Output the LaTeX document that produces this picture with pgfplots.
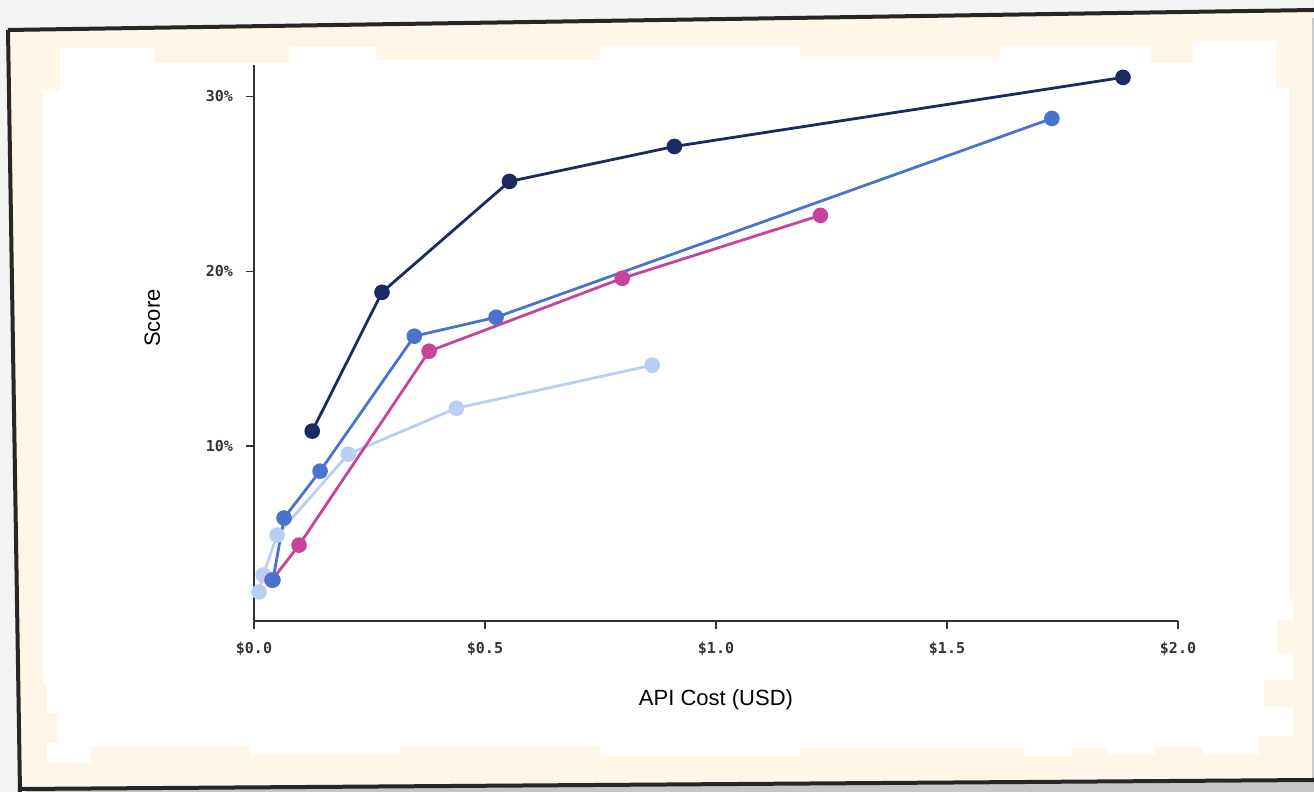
\documentclass[border=0pt]{standalone}
\usepackage{pgfplots}
\pgfplotsset{compat=1.18}
\usepackage{fontspec}
\setmainfont{Liberation Sans}
\newfontfamily\monofont{DejaVu Sans Mono}
\definecolor{navy}{HTML}{1B2A63}
\definecolor{midblue}{HTML}{4A74CC}
\definecolor{pinkc}{HTML}{C8439B}
\definecolor{lightb}{HTML}{B9CEF3}
\definecolor{cream}{HTML}{FEF6E8}
\definecolor{bgc}{HTML}{F3F3F3}
\begin{document}
\begin{tikzpicture}
\useasboundingbox (0,0) rectangle (657pt,396pt);
\begin{scope}[x=0.5pt,y=-0.5pt,shift={(0pt,396pt)}]
\fill[bgc] (0,0) rectangle (1314,792);
\fill[gray!45] (14,38) -- (1314,18) -- (1314,792) -- (26,792) -- cycle;
\fill[cream] (8,30) -- (1312,10) -- (1312,782) -- (20,790) -- cycle;
\draw[line width=2pt,black!85] (8,30) -- (1314,10);
\draw[line width=2pt,black!85] (8,30) -- (20,792);
\draw[line width=2pt,black!85] (20,789) -- (1314,780);
\fill[white] (60,90) -- (60,48) -- (154,48) -- (154,63) -- (290,63) -- (290,47) -- (376,47)
  -- (376,60) -- (600,60) -- (600,45) -- (800,45) -- (800,58) -- (1000,58) -- (1000,46)
  -- (1150,46) -- (1150,63) -- (1193,63) -- (1193,41) -- (1276,41) -- (1276,88) -- (1289,88)
  -- (1289,600) -- (1293,600) -- (1293,620) -- (1277,620) -- (1277,653) -- (1293,653)
  -- (1293,680) -- (1264,680) -- (1264,707) -- (1293,707) -- (1293,736) -- (1258,736)
  -- (1258,755) -- (1203,755) -- (1203,747) -- (1154,747) -- (1154,755) -- (1108,755)
  -- (1108,748) -- (1071,748) -- (1071,756) -- (1025,756) -- (1025,748) -- (800,748)
  -- (800,756) -- (600,756) -- (600,746) -- (400,746) -- (400,755) -- (250,755) -- (250,746)
  -- (91,746) -- (91,763) -- (47,763) -- (47,743) -- (58,743) -- (58,713) -- (47,713)
  -- (47,684) -- (43,684) -- (43,90) -- cycle;
\end{scope}
\begin{axis}[
  at={(127pt,85.5pt)}, anchor=south west,
  scale only axis, width=462pt, height=278pt,
  xmin=0, xmax=2, ymin=0, ymax=31.8,
  axis x line*=bottom, axis y line*=left,
  axis line style={-, black!80, line width=0.8pt},
  tick style={black!80, line width=0.8pt},
  tick align=outside, major tick length=4pt,
  xtick={0,0.5,1,1.5,2},
  xticklabels={\$0.0,\$0.5,\$1.0,\$1.5,\$2.0},
  ytick={10,20,30},
  yticklabels={10\%,20\%,30\%},
  ticklabel style={font=\monofont\bfseries\fontsize{7.5}{9}\selectfont, black!80},
  xticklabel style={yshift=-3pt},
  yticklabel style={xshift=-3pt},
  xlabel={API Cost (USD)},
  ylabel={Score},
  label style={font=\fontsize{11}{13}\selectfont},
  xlabel style={at={(axis description cs:0.5,-0.142)}, anchor=center},
  ylabel style={at={(axis description cs:-0.110,0.545)}, anchor=center, rotate=0},
  clip=false,
  every axis plot/.append style={line width=1.4pt, mark=*, mark size=3.2pt},
]
\addplot[lightb, mark options={fill=lightb, draw=lightb}] coordinates {
(0.011,1.66) (0.020,2.63) (0.050,4.91) (0.204,9.54) (0.438,12.17) (0.862,14.63)};
\addplot[pinkc, mark options={fill=pinkc, draw=pinkc}] coordinates {
(0.039,2.34) (0.0975,4.34) (0.379,15.43) (0.797,19.6) (1.226,23.2)};
\addplot[midblue, mark options={fill=midblue, draw=midblue}] coordinates {
(0.041,2.34) (0.065,5.89) (0.143,8.57) (0.347,16.29) (0.524,17.37) (1.727,28.74)};
\addplot[navy, mark options={fill=navy, draw=navy}] coordinates {
(0.126,10.86) (0.277,18.8) (0.553,25.14) (0.910,27.14) (1.881,31.09)};
\end{axis}
\end{tikzpicture}
\end{document}
